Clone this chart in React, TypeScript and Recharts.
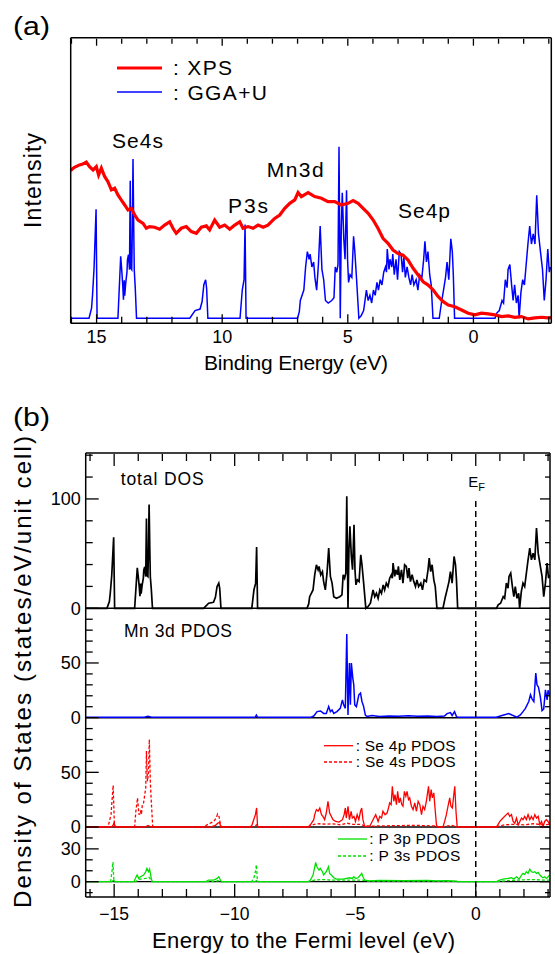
import { ComposedChart, Line, XAxis, YAxis, ReferenceLine } from 'recharts';

// ---------- panel (a): XPS vs GGA+U ----------
// [binding energy (eV), intensity (arb. units)]
const xps: [number, number][] = [
  [16.03, 88], [15.98, 88.9], [15.88, 90.1], [15.68, 91.5], [15.55, 92], [15.41, 93.2], [15.28, 90.5],
  [15.14, 88.5], [15.01, 90.5], [14.92, 85.5], [14.81, 89.6], [14.68, 84.6], [14.55, 81.6], [14.41, 76.6],
  [14.28, 77.6], [14.15, 73.6], [14.02, 70.6], [13.88, 67.6], [13.75, 64.6], [13.62, 65.6], [13.48, 61.6],
  [13.35, 58.6], [13.15, 56.6], [13.02, 53.7], [12.89, 54.7], [12.69, 54.3], [12.49, 53.1], [12.29, 55.6],
  [12.09, 57.6], [11.96, 53.7], [11.83, 50.7], [11.63, 53.7], [11.43, 54.7], [11.23, 51.7], [11.03, 50.7],
  [10.83, 54.3], [10.63, 55.1], [10.5, 52.7], [10.3, 58.6], [10.1, 54.3], [9.9, 55.6], [9.7, 53.1],
  [9.5, 55.6], [9.3, 57.6], [9.17, 53.7], [8.97, 54.7], [8.77, 53.7], [8.57, 55.6], [8.37, 54.3],
  [8.18, 55.6], [8.04, 57.6], [7.91, 59.6], [7.71, 61.6], [7.51, 65.6], [7.31, 68.6], [7.11, 70.6],
  [6.98, 75], [6.85, 72.6], [6.58, 75], [6.32, 72.6], [6.05, 71.6], [5.79, 69.6], [5.52, 69.6],
  [5.26, 67.6], [4.99, 68.6], [4.79, 70.2], [4.59, 68.6], [4.39, 65.6], [4.19, 62.6], [3.99, 58.6],
  [3.8, 53.7], [3.6, 47.7], [3.4, 44.7], [3.2, 40.7], [3.0, 38.6], [2.8, 37.6], [2.6, 34.7],
  [2.4, 29.8], [2.2, 25.8], [2.0, 21.8], [1.8, 19.8], [1.6, 16.9], [1.4, 12.9], [1.2, 9.9],
  [1.0, 7.9], [0.74, 6.9], [0.47, 4.9], [0.21, 3], [-0.06, 2], [-0.32, 3], [-0.59, 2.6],
  [-0.85, 2], [-1.12, 1], [-1.38, 1.4], [-1.65, 0.6], [-1.91, 1], [-2.18, -0.4], [-2.44, 0.2],
  [-2.71, 0.6], [-2.97, 0.2], [-3.1, 0.4],
];

// ---------- panel (b): DOS, [E - E_F (eV), states/eV/unit cell] ----------
// total DOS is also the GGA+U curve of panel (a)
const totalDos: [number, number][] = [
  [-16.2, 0], [-15.3, 0], [-15.2, 6], [-15.16, 14], [-15.1, 30], [-15.02, 65], [-14.98, 0],
  [-14.15, 0], [-14.04, 37], [-14.0, 29], [-13.96, 20], [-13.93, 11], [-13.9, 22.6], [-13.88, 13.5],
  [-13.84, 21], [-13.79, 27.5], [-13.77, 35], [-13.73, 38], [-13.69, 29], [-13.66, 82], [-13.64, 30],
  [-13.6, 29], [-13.58, 50], [-13.55, 95], [-13.52, 53], [-13.5, 29], [-13.46, 18], [-13.41, 0],
  [-11.29, 0], [-11.08, 4.6], [-10.88, 5.5], [-10.8, 10], [-10.73, 20], [-10.66, 23], [-10.62, 18], [-10.57, 0],
  [-9.29, 0], [-9.2, 17], [-9.13, 23], [-9.09, 56], [-9.05, 0],
  [-7.0, 0], [-6.93, 4], [-6.89, 10.6], [-6.75, 16.8], [-6.68, 30.6], [-6.61, 39.8], [-6.54, 35.2],
  [-6.5, 38.3], [-6.43, 30.6], [-6.36, 33.6], [-6.31, 24.4], [-6.24, 16.8], [-6.17, 32.1], [-6.1, 55],
  [-6.03, 29.1], [-5.96, 23], [-5.89, 10.6], [-5.78, 9.1], [-5.64, 10.6], [-5.55, 12.2], [-5.5, 30.6],
  [-5.44, 27.5], [-5.39, 32.1], [-5.35, 102.4], [-5.3, 0], [-5.26, 53.5], [-5.22, 74.9], [-5.16, 47.4],
  [-5.11, 35.2], [-5.05, 76.4], [-5.01, 35.2], [-4.97, 21.4], [-4.91, 26], [-4.84, 24.4], [-4.77, 48.9],
  [-4.72, 39.8], [-4.65, 23], [-4.56, 0], [-4.47, 1.5], [-4.37, 4.6], [-4.26, 16.8], [-4.19, 10.6],
  [-4.12, 13.7], [-4.05, 9.1], [-3.98, 16.8], [-3.91, 13.7], [-3.84, 21.4], [-3.78, 16.8], [-3.71, 23],
  [-3.64, 19.9], [-3.57, 27.5], [-3.5, 30.6], [-3.46, 27.5], [-3.43, 41.3], [-3.36, 29.1], [-3.32, 35.2],
  [-3.25, 30.6], [-3.21, 38.3], [-3.15, 26], [-3.08, 35.2], [-3.02, 23], [-2.95, 39.8], [-2.88, 38.3],
  [-2.82, 27.5], [-2.77, 36.7], [-2.71, 24.4], [-2.64, 30.6], [-2.57, 24.4], [-2.5, 19.9], [-2.44, 26],
  [-2.37, 19.9], [-2.28, 23], [-2.21, 16.8], [-2.14, 26], [-2.05, 24.4], [-1.98, 35.2], [-1.93, 45.9],
  [-1.87, 33.6], [-1.81, 39.8], [-1.74, 26], [-1.68, 19.9], [-1.61, 0], [-1.36, 0], [-1.26, 10.6],
  [-1.19, 16.8], [-1.11, 24.4], [-1.05, 33.6], [-0.98, 23], [-0.9, 47.4], [-0.84, 39.8], [-0.8, 26], [-0.75, 0],
  [0.86, 0], [0.93, 3.1], [1.03, 4.6], [1.14, 10.6], [1.2, 9.1], [1.27, 23], [1.34, 18.3], [1.38, 29.1],
  [1.45, 32.1], [1.52, 19.9], [1.58, 10.6], [1.64, 19.9], [1.71, 9.1], [1.78, 13.7], [1.82, 0], [1.89, 15.3],
  [1.96, 23], [2.03, 19.9], [2.1, 32.1], [2.17, 44.3], [2.24, 55], [2.31, 44.3], [2.38, 50.4], [2.45, 44.3],
  [2.52, 73.4], [2.59, 50.4], [2.68, 38.3], [2.75, 29.1], [2.82, 10.6], [2.89, 23], [2.96, 41.3],
  [3.02, 27.5], [3.07, 30.6],
];

const mn3d: [number, number][] = [
  [-16.2, 0.3], [-13.75, 0.3], [-13.6, 1.2], [-13.45, 0.3], [-9.15, 0.3], [-9.1, 2.4], [-9.05, 0.3],
  [-6.85, 0.3], [-6.72, 1.5], [-6.58, 5.5], [-6.44, 6.1], [-6.31, 3.9], [-6.2, 3.9], [-6.1, 10.1],
  [-6.03, 5.5], [-5.96, 7], [-5.89, 3.9], [-5.76, 5.5], [-5.62, 8.5], [-5.53, 16.3], [-5.48, 11.7],
  [-5.41, 8.5], [-5.35, 76.4], [-5.3, 2.4], [-5.24, 49.9], [-5.2, 11.7], [-5.16, 49.9], [-5.1, 36.2],
  [-5.06, 30.1], [-5.02, 11.7], [-4.95, 10.1], [-4.85, 20.9], [-4.78, 22.5], [-4.72, 14.8], [-4.65, 10.1],
  [-4.58, 2.4], [-4.51, 1], [-4.3, 2], [-4.0, 1], [-3.6, 1.5], [-3.2, 1.2], [-2.8, 1.8], [-2.4, 1.2],
  [-2.0, 1.5], [-1.6, 1], [-1.3, 1.5], [-1.19, 3.7], [-1.05, 4.6], [-0.98, 2], [-0.88, 5.5], [-0.8, 1],
  [-0.75, 0.3], [0.85, 0.3], [1.16, 2.5], [1.37, 3.7], [1.5, 2.4], [1.71, 0.5], [1.85, 2.5], [1.96, 5.5],
  [2.06, 8.5], [2.2, 14.8], [2.27, 21], [2.34, 17], [2.41, 14.8], [2.49, 40.7], [2.54, 30], [2.6, 28],
  [2.68, 19], [2.75, 6.4], [2.82, 8], [2.89, 25.4], [2.96, 16.3], [3.0, 25], [3.07, 20],
];

const se4p: [number, number][] = [
  [-16.2, 0], [-15.1, 0], [-15.04, 2], [-15.0, 4], [-14.96, 0], [-13.7, 0], [-13.6, 1.5], [-13.45, 0],
  [-11.0, 0], [-10.8, 1.5], [-10.7, 3.5], [-10.62, 4], [-10.58, 0], [-9.35, 0], [-9.28, 2], [-9.21, 6.6],
  [-9.14, 11.3], [-9.09, 17.4], [-9.05, 0], [-6.95, 0], [-6.86, 2], [-6.72, 6.7], [-6.68, 11.3],
  [-6.61, 15.9], [-6.54, 14.4], [-6.47, 17.4], [-6.4, 11.3], [-6.34, 9.7], [-6.27, 6.7], [-6.2, 12.8],
  [-6.13, 23.5], [-6.06, 12.8], [-5.99, 9.7], [-5.92, 6.7], [-5.81, 5.1], [-5.67, 4.5], [-5.53, 6.7],
  [-5.46, 11.3], [-5.41, 17.4], [-5.37, 8.2], [-5.3, 18.9], [-5.24, 6.7], [-5.17, 14.4], [-5.12, 8.2],
  [-5.05, 9.7], [-4.99, 5.1], [-4.92, 11.3], [-4.85, 6.7], [-4.78, 14.4], [-4.73, 17.4], [-4.68, 6.7],
  [-4.61, 0.5], [-4.4, 0.5], [-4.26, 6.7], [-4.15, 11.3], [-4.05, 5.1], [-3.98, 9.7], [-3.91, 8.2],
  [-3.85, 14.4], [-3.76, 11.3], [-3.68, 12.8], [-3.62, 17.4], [-3.57, 22], [-3.51, 20.5], [-3.46, 37.3],
  [-3.4, 23.5], [-3.35, 29.6], [-3.29, 20.5], [-3.24, 32.6], [-3.18, 22], [-3.13, 26.6], [-3.07, 20.5],
  [-3.02, 19], [-2.96, 32.6], [-2.9, 28.1], [-2.85, 32.6], [-2.79, 25], [-2.74, 26.6], [-2.67, 19],
  [-2.6, 15.9], [-2.53, 22], [-2.46, 14.4], [-2.39, 23.5], [-2.32, 20.5], [-2.25, 11.3], [-2.19, 19],
  [-2.12, 15.9], [-2.05, 23.5], [-1.96, 37.3], [-1.91, 23.5], [-1.85, 34.2], [-1.8, 26.6], [-1.74, 31.2],
  [-1.69, 17.4], [-1.63, 2], [-1.59, 0], [-1.36, 0], [-1.29, 5.1], [-1.22, 11.3], [-1.15, 19],
  [-1.08, 26.6], [-1.03, 19], [-0.97, 17.4], [-0.91, 29.6], [-0.87, 37.3], [-0.82, 14.4], [-0.77, 0],
  [0.86, 0], [1.0, 5.1], [1.13, 8.2], [1.27, 11.3], [1.34, 12.8], [1.41, 9.7], [1.48, 11.3], [1.55, 5.1],
  [1.62, 3.5], [1.69, 8.2], [1.76, 2], [1.83, 5.1], [1.9, 8.2], [1.96, 6.7], [2.03, 9.7], [2.1, 6.7],
  [2.17, 11.3], [2.24, 6.7], [2.31, 9.7], [2.38, 6.7], [2.45, 11.3], [2.52, 8.2], [2.59, 9.7], [2.66, 2],
  [2.73, 5.1], [2.79, 0.5], [2.86, 5.1], [2.93, 6.7], [3.0, 5.1], [3.07, 2],
];

const se4s: [number, number][] = [
  [-16.2, 0.3], [-15.25, 0.3], [-15.13, 11.3], [-15.08, 26.6], [-15.04, 38.2], [-14.99, 2], [-14.95, 0.3],
  [-14.15, 0.3], [-14.1, 14.3], [-14.03, 26.6], [-13.97, 11.3], [-13.91, 14.3], [-13.87, 11.3],
  [-13.83, 20.4], [-13.78, 21.9], [-13.73, 29.6], [-13.69, 35.7], [-13.66, 69.4], [-13.62, 41.8],
  [-13.58, 47.9], [-13.54, 80.1], [-13.5, 41.8], [-13.46, 23.5], [-13.4, 0.3], [-11.25, 0.3], [-11.15, 2],
  [-11.01, 3.5], [-10.87, 5.1], [-10.77, 8.1], [-10.71, 11.8], [-10.65, 9.6], [-10.59, 2], [-10.55, 0.3],
  [-9.15, 0.3], [-9.1, 2], [-9.05, 0.3], [-6.9, 0.3], [-6.7, 2.5], [-6.5, 3], [-6.2, 2.5], [-6.0, 3],
  [-5.6, 2], [-5.35, 3.5], [-5.1, 2.5], [-4.8, 2.5], [-4.6, 1], [-4.4, 0.8], [-3.5, 1.2], [-2.5, 1.5],
  [-1.7, 1], [-1.6, 0.3], [-1.3, 0.5], [-1.0, 1.5], [-0.8, 0.3], [0.85, 0.3], [1.2, 2], [1.6, 2.5],
  [2.0, 2], [2.4, 3], [2.8, 2], [3.07, 2.5],
];

const p3p: [number, number][] = [
  [-16.2, 0], [-15.1, 0], [-15.02, 1.5], [-14.96, 0], [-14.18, 0], [-14.12, 3], [-14.05, 6.1], [-13.98, 3],
  [-13.91, 4.5], [-13.78, 6.1], [-13.69, 9.1], [-13.64, 12.1], [-13.57, 9.1], [-13.53, 11.5], [-13.46, 3],
  [-13.42, 0], [-11.2, 0], [-11.08, 1.5], [-10.87, 1.5], [-10.73, 3], [-10.66, 4.5], [-10.59, 1.5],
  [-10.55, 0], [-9.15, 0], [-9.1, 1], [-9.05, 0], [-6.95, 0], [-6.86, 1.5], [-6.75, 6.1], [-6.64, 17.6],
  [-6.59, 13.6], [-6.5, 10.6], [-6.45, 12.1], [-6.36, 9.1], [-6.31, 6.1], [-6.2, 9.1], [-6.11, 13.6],
  [-6.06, 7.6], [-5.99, 6.1], [-5.89, 3.6], [-5.78, 2.4], [-5.51, 2.4], [-5.23, 3.6], [-5.12, 3],
  [-5.06, 4.5], [-4.98, 3], [-4.88, 3.6], [-4.78, 6.1], [-4.73, 7.6], [-4.68, 4.5], [-4.61, 1.5],
  [-4.4, 0.8], [-4.0, 1.2], [-3.0, 1.0], [-2.0, 1.2], [-1.6, 0.8], [-1.2, 1], [-0.8, 0.5], [-0.75, 0],
  [0.86, 0], [0.93, 0.9], [1.13, 2.4], [1.34, 3], [1.48, 3.6], [1.58, 2.4], [1.69, 4.5], [1.8, 2.4],
  [1.9, 6.1], [1.96, 7.6], [2.03, 6.7], [2.1, 9.1], [2.17, 7.6], [2.24, 11.5], [2.31, 9.1], [2.38, 8.5],
  [2.45, 9.1], [2.52, 7.6], [2.59, 8.5], [2.66, 6.1], [2.73, 4.5], [2.79, 3.6], [2.86, 4.5], [2.93, 3],
  [3.0, 4.5], [3.07, 6.1],
];

const p3s: [number, number][] = [
  [-16.2, 0], [-15.15, 0], [-15.09, 9], [-15.05, 18], [-15.01, 1], [-14.97, 0], [-14.1, 0], [-14.0, 2],
  [-13.7, 3], [-13.55, 4], [-13.42, 0], [-10.8, 0], [-10.7, 1], [-10.6, 0], [-9.3, 0], [-9.21, 3],
  [-9.14, 9.1], [-9.1, 15.5], [-9.06, 1.5], [-9.02, 0], [-6.9, 0], [-6.7, 1.5], [-6.4, 2], [-6.0, 1.5],
  [-5.3, 1.5], [-4.7, 1.5], [-4.5, 0.5], [-3.0, 0.5], [-1.5, 0.5], [-0.8, 0.3], [-0.75, 0], [0.9, 0],
  [1.3, 1], [1.8, 1.5], [2.3, 2], [2.8, 1.5], [3.07, 1.5],
];

// ---------- ticks ----------
const aTicks = [-3, -2, -1, 0, 1, 2, 3, 4, 5, 6, 7, 8, 9, 10, 11, 12, 13, 14, 15, 16];
const aTickLabels = [0, 5, 10, 15];
const bTicks = [-16, -15, -14, -13, -12, -11, -10, -9, -8, -7, -6, -5, -4, -3, -2, -1, 0, 1, 2, 3];
const bTickLabels = [-15, -10, -5, 0];

// stacked sub-panels of (b): zero of each one sits at `offset` on a shared y scale
const subPanels = [
  { offset: 250, ticks: [0, 20, 40, 60, 80, 100, 120, 140], labels: [0, 100] },
  { offset: 150, ticks: [0, 10, 20, 30, 40, 50, 60, 70, 80, 90], labels: [0, 50] },
  { offset: 50, ticks: [0, 10, 20, 30, 40, 50, 60, 70, 80, 90], labels: [0, 50] },
  { offset: 0, ticks: [-10, 0, 10, 20, 30, 40], labels: [0, 30] },
];
const OFF = { total: 250, mn: 150, se: 50, p: 0 };

const RED = '#ff0000';
const BLUE = '#0000ff';
const GREEN = '#00e000';
const FONT = '"Liberation Sans", Arial, sans-serif';

const minus = (v: number) => (v < 0 ? `\u2212${-v}` : String(v));

const xTick = (labels: Map<number, string>, dir: number, major: number, minor: number, labelDy?: number, fs = 18) =>
  (p: any) => {
    const label = labels.get(p.payload.value);
    const len = label !== undefined ? major : minor;
    const y0 = dir < 0 ? p.y : p.y + 1; // axis boxes are 1px tall
    return (
      <g>
        <line x1={p.x} x2={p.x} y1={y0} y2={y0 + dir * len} stroke="#000" strokeWidth={1.3} />
        {label !== undefined && labelDy !== undefined && (
          <text x={p.x} y={y0 + labelDy} textAnchor="middle" fontSize={fs} fill="#000">{label}</text>
        )}
      </g>
    );
  };

const yTick = (labels: Map<number, string>, dir: number, major: number, minor: number, showLabel: boolean) =>
  (p: any) => {
    const label = labels.get(p.payload.value);
    const len = label !== undefined ? major : minor;
    return (
      <g>
        <line x1={p.x} x2={p.x + dir * len} y1={p.y} y2={p.y} stroke="#000" strokeWidth={1.3} />
        {label !== undefined && showLabel && (
          <text x={p.x - 5} y={p.y} dy="0.35em" textAnchor="end" fontSize={18} fill="#000">{label}</text>
        )}
      </g>
    );
  };

const toPts = (arr: [number, number][], off = 0) => arr.map(([x, y]) => ({ x, y: y + off }));

export default function App() {
  const aLabels = new Map(aTickLabels.map((v) => [v, String(v)] as [number, string]));
  const bLabels = new Map(bTickLabels.map((v) => [v, minus(v)] as [number, string]));
  const yPos: number[] = [];
  const yLabels = new Map<number, string>();
  subPanels.forEach((sp) => {
    sp.ticks.forEach((t) => yPos.push(sp.offset + t));
    sp.labels.forEach((t) => yLabels.set(sp.offset + t, String(t)));
  });
  yPos.sort((a, b) => a - b);

  const ggaPts = totalDos.map(([e, v]) => ({ x: -e, y: v }));
  const axisLine = { stroke: '#000', strokeWidth: 1.5 };

  return (
    <div style={{ position: 'absolute', left: 0, top: 0, width: 555, height: 954, background: '#fff', fontFamily: FONT }}>
      {/* (a) */}
      <div style={{ position: 'absolute', left: 0, top: 0 }}>
        <ComposedChart width={555} height={400} margin={{ top: 36.7, right: 2.7, bottom: 75.7, left: 69.7 }}>
          <XAxis xAxisId="b" type="number" dataKey="x" domain={[-3.1, 16.03]} reversed allowDataOverflow
            ticks={aTicks} interval={0} height={1} tickSize={0} tickMargin={0} tickLine={false}
            axisLine={axisLine} tick={xTick(aLabels, -1, 9, 6.5, 20)} />
          <XAxis xAxisId="t" orientation="top" type="number" dataKey="x" domain={[-3.1, 16.03]} reversed allowDataOverflow
            ticks={aTicks} interval={0} height={1} tickSize={0} tickMargin={0} tickLine={false}
            axisLine={axisLine} tick={xTick(aLabels, 1, 7, 5)} />
          <YAxis yAxisId="l" type="number" domain={[-3, 167.4]} allowDataOverflow width={1}
            tick={false} tickLine={false} axisLine={axisLine} />
          <YAxis yAxisId="r" orientation="right" type="number" domain={[-3, 167.4]} allowDataOverflow width={1}
            tick={false} tickLine={false} axisLine={axisLine} />
          <Line xAxisId="b" yAxisId="l" data={ggaPts} dataKey="y" type="linear" stroke={BLUE} strokeWidth={1.5}
            dot={false} isAnimationActive={false} />
          <Line xAxisId="b" yAxisId="l" data={toPts(xps)} dataKey="y" type="linear" stroke={RED} strokeWidth={3.2}
            dot={false} isAnimationActive={false} />
        </ComposedChart>
      </div>

      {/* (b) */}
      <div style={{ position: 'absolute', left: 0, top: 400 }}>
        <ComposedChart width={555} height={554} margin={{ top: 52, right: 4, bottom: 56, left: 84.7 }}>
          <XAxis xAxisId="b" type="number" dataKey="x" domain={[-16.18, 3.08]} allowDataOverflow
            ticks={bTicks} interval={0} height={1} tickSize={0} tickMargin={0} tickLine={false}
            axisLine={axisLine} tick={xTick(bLabels, -1, 13, 8, 23, 17.5)} />
          <XAxis xAxisId="t" orientation="top" type="number" dataKey="x" domain={[-16.18, 3.08]} allowDataOverflow
            ticks={bTicks} interval={0} height={1} tickSize={0} tickMargin={0} tickLine={false}
            axisLine={axisLine} tick={xTick(bLabels, 1, 12, 7)} />
          <YAxis yAxisId="l" type="number" domain={[-14, 392]} allowDataOverflow width={1}
            ticks={yPos} interval={0} tickSize={0} tickMargin={0} tickLine={false}
            axisLine={axisLine} tick={yTick(yLabels, 1, 13, 7, true)} />
          <YAxis yAxisId="r" orientation="right" type="number" domain={[-14, 392]} allowDataOverflow width={1}
            ticks={yPos} interval={0} tickSize={0} tickMargin={0} tickLine={false}
            axisLine={axisLine} tick={yTick(yLabels, -1, 10, 5, false)} />

          <ReferenceLine xAxisId="b" yAxisId="l" y={OFF.total} stroke="#000" strokeWidth={1.5} />
          <ReferenceLine xAxisId="b" yAxisId="l" y={OFF.mn} stroke="#000" strokeWidth={1.5} />
          <ReferenceLine xAxisId="b" yAxisId="l" y={OFF.se} stroke="#000" strokeWidth={1.5} />
          <ReferenceLine xAxisId="b" yAxisId="l" y={OFF.p} stroke="#000" strokeWidth={1.2} />

          <Line xAxisId="b" yAxisId="l" data={toPts(totalDos, OFF.total)} dataKey="y" type="linear" stroke="#000"
            strokeWidth={1.7} dot={false} isAnimationActive={false} />
          <Line xAxisId="b" yAxisId="l" data={toPts(mn3d, OFF.mn)} dataKey="y" type="linear" stroke={BLUE}
            strokeWidth={1.5} dot={false} isAnimationActive={false} />
          <Line xAxisId="b" yAxisId="l" data={toPts(se4s, OFF.se)} dataKey="y" type="linear" stroke={RED}
            strokeWidth={1.3} strokeDasharray="3 2" dot={false} isAnimationActive={false} />
          <Line xAxisId="b" yAxisId="l" data={toPts(se4p, OFF.se)} dataKey="y" type="linear" stroke={RED}
            strokeWidth={1.3} dot={false} isAnimationActive={false} />
          <Line xAxisId="b" yAxisId="l" data={toPts(p3s, OFF.p)} dataKey="y" type="linear" stroke={GREEN}
            strokeWidth={1.3} strokeDasharray="3 2" dot={false} isAnimationActive={false} />
          <Line xAxisId="b" yAxisId="l" data={toPts(p3p, OFF.p)} dataKey="y" type="linear" stroke={GREEN}
            strokeWidth={1.3} dot={false} isAnimationActive={false} />

          <ReferenceLine xAxisId="b" yAxisId="l" segment={[{ x: 0, y: -14 }, { x: 0, y: 348 }]}
            stroke="#000" strokeWidth={1.5} strokeDasharray="6 4" />
        </ComposedChart>
      </div>

      {/* labels, legends and titles */}
      <svg width={555} height={954} style={{ position: 'absolute', left: 0, top: 0, pointerEvents: 'none' }}
        fontFamily={FONT} fill="#000">
        <text x={13} y={35} fontSize={26} textLength={37} lengthAdjust="spacingAndGlyphs">(a)</text>
        <text x={13} y={426} fontSize={26} textLength={37} lengthAdjust="spacingAndGlyphs">(b)</text>

        <text transform="translate(41,180.5) rotate(-90)" textAnchor="middle" fontSize={23} textLength={95}>Intensity</text>
        <text x={296} y={370} textAnchor="middle" fontSize={21} textLength={184}>Binding Energy (eV)</text>

        <line x1={117} x2={162} y1={68} y2={68} stroke={RED} strokeWidth={3.2} />
        <text x={173} y={75} fontSize={21} textLength={59}>: XPS</text>
        <line x1={117} x2={162} y1={92} y2={92} stroke={BLUE} strokeWidth={1.5} />
        <text x={173} y={100} fontSize={21} textLength={94}>: GGA+U</text>

        <text x={112} y={148} fontSize={21} textLength={51}>Se4s</text>
        <text x={228} y={213} fontSize={21} textLength={40}>P3s</text>
        <text x={266.7} y={177} fontSize={21} textLength={57}>Mn3d</text>
        <text x={398} y={218} fontSize={21} textLength={52}>Se4p</text>

        <text x={120.7} y={484.5} fontSize={17.5} textLength={83}>total DOS</text>
        <text x={124} y={636.5} fontSize={17.5} textLength={108}>Mn 3d PDOS</text>
        <text x={468.3} y={486.7} fontSize={15}>E</text>
        <text x={478.3} y={490.7} fontSize={11}>F</text>

        <line x1={324} x2={353} y1={745.7} y2={745.7} stroke={RED} strokeWidth={1.3} />
        <text x={355.7} y={750.5} fontSize={15.5} textLength={100}>: Se 4p PDOS</text>
        <line x1={324} x2={353} y1={762} y2={762} stroke={RED} strokeWidth={1.3} strokeDasharray="3 2" />
        <text x={355.7} y={766.5} fontSize={15.5} textLength={100}>: Se 4s PDOS</text>

        <line x1={338} x2={367} y1={839} y2={839} stroke={GREEN} strokeWidth={1.3} />
        <text x={369.3} y={843.5} fontSize={15.5} textLength={91}>: P 3p PDOS</text>
        <line x1={338} x2={367} y1={856} y2={856} stroke={GREEN} strokeWidth={1.3} strokeDasharray="3 2" />
        <text x={369.3} y={860.7} fontSize={15.5} textLength={91}>: P 3s PDOS</text>

        <text transform="translate(31,672) rotate(-90)" textAnchor="middle" fontSize={24} textLength={472}>
          Density of States (states/eV/unit cell)
        </text>
        <text x={303.5} y={948} textAnchor="middle" fontSize={22} textLength={303}>Energy to the Fermi level (eV)</text>
      </svg>
    </div>
  );
}
